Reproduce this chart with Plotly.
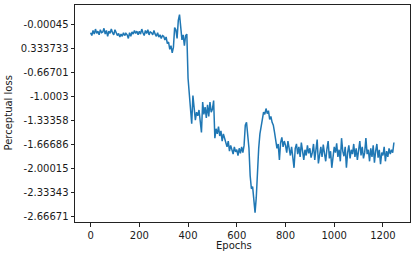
import plotly.graph_objects as go

# epochs sampled every 5 steps
epochs = list(range(0, 1250, 5))

loss = [
    -0.12, -0.16, -0.09, -0.14, -0.07, -0.13, -0.10, -0.15, -0.08, -0.12,
    -0.11, -0.06, -0.14, -0.09, -0.17, -0.10, -0.13, -0.07, -0.12, -0.15,
    -0.08, -0.12, -0.16, -0.13, -0.18, -0.14, -0.17, -0.12, -0.16, -0.13,
    -0.15, -0.20, -0.12, -0.17, -0.11, -0.14, -0.09, -0.13, -0.10, -0.15,
    -0.10, -0.14, -0.07, -0.12, -0.16, -0.09, -0.13, -0.08, -0.15, -0.11,
    -0.12, -0.15, -0.09, -0.14, -0.17, -0.12, -0.18, -0.15, -0.20, -0.16,
    -0.17, -0.22, -0.18, -0.27, -0.25, -0.35, -0.30, -0.40, -0.32, -0.05,
    -0.08, -0.20, 0.05, 0.13, -0.02, -0.22, -0.15, -0.30, -0.16, -0.14,
    -0.75, -1.00, -1.25, -1.38, -0.99, -1.20, -1.33, -1.22, -1.27, -1.19,
    -1.35, -1.50, -1.08, -1.25, -1.15, -1.30, -1.12, -1.28, -1.08, -1.22,
    -1.18, -1.06, -1.58, -1.45, -1.52, -1.42, -1.55, -1.48, -1.62, -1.52,
    -1.58, -1.66, -1.70, -1.62, -1.76, -1.68, -1.73, -1.80, -1.70, -1.77,
    -1.74, -1.82, -1.72, -1.79, -1.70, -1.78, -1.68, -1.40, -1.36, -1.52,
    -1.72, -2.10, -2.28, -2.25, -2.50, -2.61, -2.40, -2.00, -1.72, -1.52,
    -1.42, -1.30, -1.22, -1.25, -1.17, -1.24, -1.20, -1.32, -1.28, -1.36,
    -1.40, -1.50, -1.62, -1.72, -1.66, -1.88, -1.64, -1.57, -1.70, -1.62,
    -1.68, -1.78, -1.62, -1.74, -1.82, -1.70, -1.86, -1.99, -1.72, -1.66,
    -1.80, -1.70, -1.84, -1.64, -1.76, -1.88, -1.74, -1.82, -1.68, -1.79,
    -1.72, -1.85, -1.78, -1.66, -1.88, -1.75, -1.60, -1.93, -1.80, -1.70,
    -1.84, -1.67, -1.79, -1.90, -1.73, -1.62, -1.86, -1.76, -1.99, -1.82,
    -1.70, -1.78, -1.65, -1.84, -1.74, -1.90, -1.58, -1.76, -1.83, -1.70,
    -1.99, -1.78, -1.68, -1.86, -1.74, -1.80, -1.66, -1.84, -1.72, -1.88,
    -1.76, -1.62, -1.82, -1.70, -1.86, -1.78, -1.58, -1.80, -1.74, -1.90,
    -1.72, -1.84, -1.68, -1.92, -1.76, -1.66, -1.85, -1.74, -1.94, -1.78,
    -1.82, -1.70, -1.90, -1.76, -1.84, -1.72, -1.80, -1.74, -1.78, -1.64,
]

x_ticks = [0, 200, 400, 600, 800, 1000, 1200]
y_ticks = [-0.00045, -0.333733, -0.66701, -1.0003, -1.33358,
           -1.66686, -2.00015, -2.33343, -2.66671]
y_tick_text = ["-0.00045", "0.333733", "-0.66701", "-1.0003", "-1.33358",
               "-1.66686", "-2.00015", "-2.33343", "-2.66671"]

font = dict(family="DejaVu Sans", size=10, color="#1a1a1a")
axis_style = dict(showline=True, mirror=True, linecolor="#222", linewidth=1,
                  ticks="outside", ticklen=3.5, tickcolor="#222", tickwidth=1,
                  showgrid=False, zeroline=False, tickfont=font,
                  automargin=False)

fig = go.Figure()
fig.add_trace(go.Scatter(x=epochs, y=loss, mode="lines",
                         line=dict(color="#1f77b4", width=1.5)))

fig.update_layout(width=414, height=253,
                  margin=dict(l=75, r=4, t=5, b=31, autoexpand=False),
                  paper_bgcolor="white", plot_bgcolor="white",
                  showlegend=False, font=font)
fig.update_xaxes(range=[-64, 1311], tickvals=x_ticks, **axis_style)
fig.update_yaxes(range=[-2.740, 0.263], tickvals=y_ticks, ticktext=y_tick_text,
                 **axis_style)

fig.add_annotation(text="Epochs", xref="paper", yref="paper",
                   x=0.4746, y=-0.106, xanchor="center", yanchor="middle",
                   showarrow=False, font=font)
fig.add_annotation(text="Perceptual loss", xref="paper", yref="paper",
                   x=-0.2, y=0.5, xanchor="center", yanchor="middle",
                   textangle=-90, showarrow=False, font=font)

# page body has a default 8px margin; drop it so the figure sits at 0,0
fig.write_html("out.html", config={"displayModeBar": False},
               post_script="document.body.style.margin='0';document.body.style.overflow='hidden';")
